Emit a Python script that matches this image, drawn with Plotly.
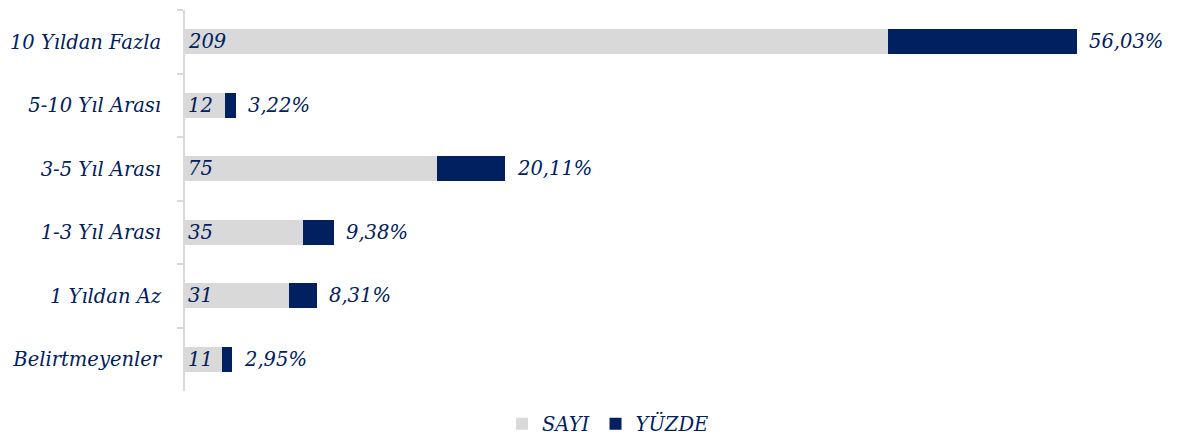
import plotly.graph_objects as go

categories = ["10 Yıldan Fazla", "5-10 Yıl Arası", "3-5 Yıl Arası", "1-3 Yıl Arası", "1 Yıldan Az", "Belirtmeyenler"]
sayi = [209, 12, 75, 35, 31, 11]
yuzde = [56.03, 3.22, 20.11, 9.38, 8.31, 2.95]
yuzde_labels = ["56,03%", "3,22%", "20,11%", "9,38%", "8,31%", "2,95%"]

NAVY = "#002060"
GRAY = "#d9d9d9"
FONT = "DejaVu Serif"
FS = 19.5

fig = go.Figure()
fig.add_trace(go.Bar(
    y=categories, x=sayi, name="SAYI", orientation="h",
    marker=dict(color=GRAY, line=dict(width=0)),
    text=[str(v) for v in sayi], textposition="inside", insidetextanchor="start",
    textfont=dict(family=FONT, size=FS, color=NAVY, style="italic"),
    constraintext="none",
))
fig.add_trace(go.Bar(
    y=categories, x=yuzde, name="YÜZDE", orientation="h",
    marker=dict(color=NAVY, line=dict(width=0)),
    textposition="none",
))
for c, s, p, lab in zip(categories, sayi, yuzde, yuzde_labels):
    fig.add_annotation(x=s + p, y=c, text=lab, showarrow=False, xanchor="left", xshift=10,
                       font=dict(family=FONT, size=FS, color=NAVY, style="italic"))

# page body has an 8px margin, so the figure is sized/offset to compensate
fig.update_layout(
    barmode="stack", bargap=0.6,
    width=1170, height=429,
    margin=dict(l=177, r=10, t=2, b=46, autoexpand=False),
    plot_bgcolor="white", paper_bgcolor="white",
    font=dict(family=FONT, size=FS, color=NAVY, style="italic"),
    legend=dict(orientation="h", x=600 / 1170, xref="container", xanchor="center",
                y=1 - 416 / 429, yref="container", yanchor="middle",
                font=dict(family=FONT, size=FS, color=NAVY, style="italic"),
                itemwidth=30, traceorder="normal"),
    showlegend=True,
)
fig.update_xaxes(range=[0, 292.2], showgrid=False, showticklabels=False, zeroline=False,
                 showline=False, ticks="", automargin=False)
fig.update_yaxes(autorange="reversed", showgrid=False, showline=True, linecolor=GRAY, linewidth=2,
                 ticks="outside", tickson="boundaries", ticklen=6, tickcolor=GRAY, tickwidth=2,
                 tickfont=dict(family=FONT, size=FS, color=NAVY, style="italic"),
                 ticklabelstandoff=18, automargin=False)

fig.write_html("out.html")
